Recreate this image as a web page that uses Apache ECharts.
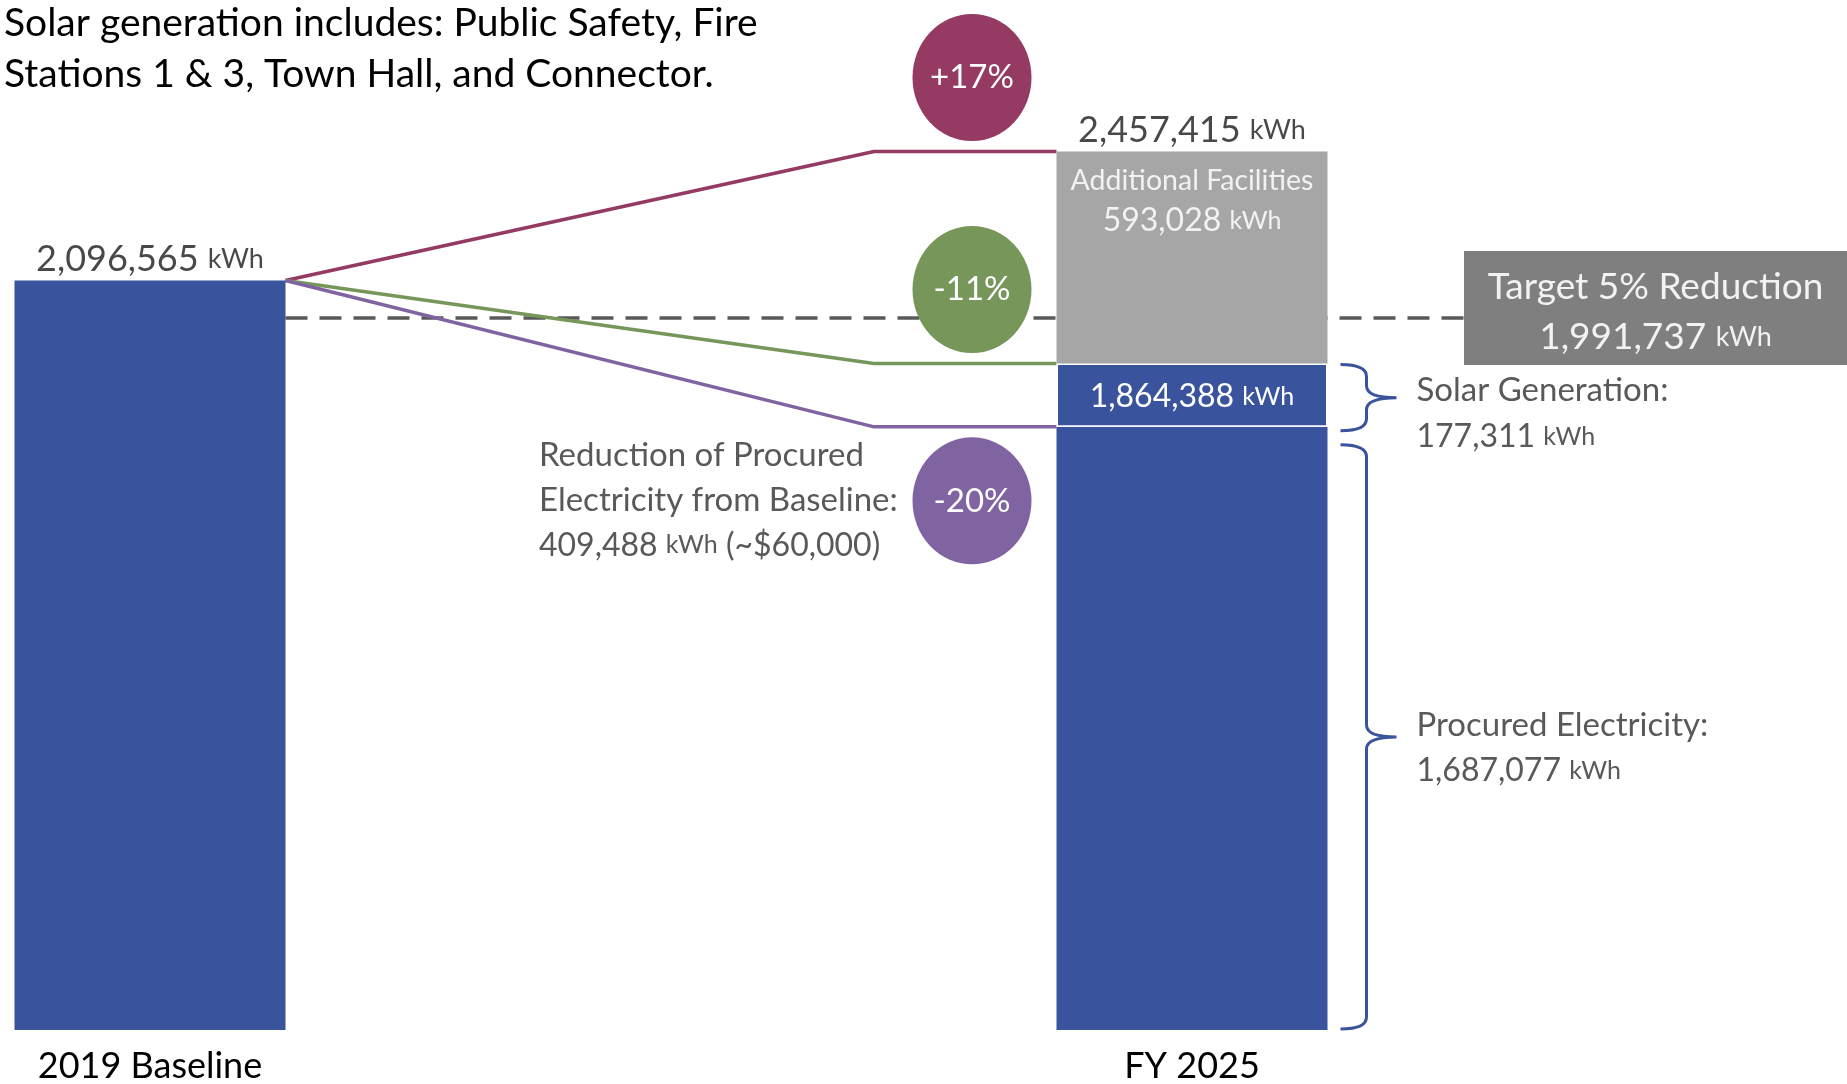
<!DOCTYPE html>
<html>
<head>
<meta charset="utf-8">
<script src="https://cdn.jsdelivr.net/npm/echarts@6/dist/echarts.min.js"></script>
<style>
html,body{margin:0;padding:0;background:#ffffff;}
#chart{width:1847px;height:1084px;}
</style>
</head>
<body>
<div id="chart"></div>
<script>
// ---------------- DATA ----------------
const categories = ['2019 Baseline', 'FY 2025'];
const procuredKWh = [2096565, 1687077];
const solarKWh = [null, 177311];
const additionalKWh = [null, 593028];
const totalKWh = [2096565, 2457415];
const netKWh = [2096565, 1864388];          // procured + solar
const targetKWh = 1991737;                  // 5% below baseline
const reductionKWh = 409488;
const reductionCost = '~$60,000';
const noteLines = ['Solar generation includes: Public Safety, Fire', 'Stations 1 & 3, Town Hall, and Connector.'];
const braceLabels = ['Solar Generation:', 'Procured Electricity:'];
const targetLabel = 'Target 5% Reduction';
const additionalLabel = 'Additional Facilities';

// ---------------- LAYOUT / STYLE ----------------
const FONT = 'Lato, "Open Sans", sans-serif';
const GRID_LEFT = 150, GRID_RIGHT_X = 1192, W = 1847, H = 1084;
const GRID_W = GRID_RIGHT_X - GRID_LEFT;
const BAR_W = 271;
const HALF = BAR_W / 2 / GRID_W;
const KINK_X = (874 - GRID_LEFT) / GRID_W;
const CIRCLE_X = (972 - GRID_LEFT) / GRID_W;
const TARGET_END_X = (1464 - GRID_LEFT) / GRID_W;
const BLUE = '#39539c', GRAY = '#a6a6a6', DARKGRAY = '#7f7f7f', TEXTGRAY = '#595959';
const C_UP = '#953a63', C_GREEN = '#77965a', C_PURPLE = '#8064a2';
const fmt = v => v.toLocaleString('en-US');
const pct = v => { const p = Math.round((v / totalKWh[0] - 1) * 100); return (p > 0 ? '+' : '') + p + '%'; };

const chart = echarts.init(document.getElementById('chart'), null, {renderer: 'canvas'});

function connector(level, color, extra) {
  return {
    type: 'line', xAxisIndex: 1, yAxisIndex: 0, z: 2, clip: false,
    symbol: 'circle', symbolSize: 0, showSymbol: true, silent: true,
    lineStyle: {color: color, width: 3.5},
    itemStyle: {color: color},
    label: {show: false},
    data: [[HALF, totalKWh[0]], extra ? Object.assign({value: [KINK_X, level]}, extra) : [KINK_X, level], [1 - HALF, level]]
  };
}

const braceData = [[1, procuredKWh[1], netKWh[1]], [1, 0, procuredKWh[1]]];
const braceValues = [solarKWh[1], procuredKWh[1]];
const bracePad = [[1, 4], [18, -1]];
const braceTextDy = [16, 11];

const option = {
  animation: false,
  backgroundColor: '#ffffff',
  title: {
    text: noteLines.join('\n'), left: 4, top: -2, padding: 0,
    textStyle: {fontFamily: FONT, fontSize: 39, lineHeight: 51, color: '#000', fontWeight: 'normal'}
  },
  grid: {left: GRID_LEFT, right: W - GRID_RIGHT_X, top: 29, bottom: 54, containLabel: false},
  xAxis: [
    {type: 'category', data: categories, boundaryGap: false,
     axisLine: {show: false}, axisTick: {show: false}, splitLine: {show: false},
     axisLabel: {fontFamily: FONT, fontSize: 36, color: '#000', margin: 18}},
    {type: 'value', min: 0, max: 1, show: false}
  ],
  yAxis: {type: 'value', min: 0, max: 2800000, show: false},
  series: [
    // target dashed line with label box
    {
      type: 'custom', xAxisIndex: 1, yAxisIndex: 0, z: 1, clip: false, silent: true,
      renderItem: function (params, api) {
        const y = api.coord([HALF, api.value(1)])[1];
        const x1 = api.coord([HALF, api.value(1)])[0];
        const x2 = api.coord([api.value(0), api.value(1)])[0];
        const boxTop = y - 67, boxH = 114, boxW = W - x2;
        return {
          type: 'group',
          children: [
            {type: 'line', shape: {x1: x1, y1: y, x2: x2, y2: y},
             style: {stroke: TEXTGRAY, lineWidth: 3.5, lineDash: [22, 12]}},
            {type: 'rect', shape: {x: x2, y: boxTop, width: boxW, height: boxH}, style: {fill: DARKGRAY}},
            {type: 'text', x: x2 + boxW / 2, y: boxTop + 61, style: {
              text: '{t|' + targetLabel + '}\n{n|' + fmt(api.value(1)) + ' }{u|kWh}',
              align: 'center', verticalAlign: 'middle', fill: '#f2f2f2',
              fontFamily: FONT, fontSize: 37, lineHeight: 50,
              rich: {
                t: {fontFamily: FONT, fontSize: 37, fill: '#f2f2f2', lineHeight: 50},
                n: {fontFamily: FONT, fontSize: 37, fill: '#f2f2f2', lineHeight: 50},
                u: {fontFamily: FONT, fontSize: 27, fill: '#f2f2f2', lineHeight: 50}
              }
            }}
          ]
        };
      },
      data: [[TARGET_END_X, targetKWh]]
    },
    connector(totalKWh[1], C_UP),
    connector(netKWh[1], C_GREEN),
    connector(procuredKWh[1], C_PURPLE, {label: {
      show: true, position: [-335, 6], align: 'left', verticalAlign: 'top',
      fontFamily: FONT, fontSize: 33, color: TEXTGRAY, lineHeight: 45,
      formatter: 'Reduction of Procured\nElectricity from Baseline:\n{n|' + fmt(reductionKWh) + ' }{u|kWh}{n| (' + reductionCost + ')}',
      rich: {
        n: {fontFamily: FONT, fontSize: 32, color: TEXTGRAY, lineHeight: 45},
        u: {fontFamily: FONT, fontSize: 25, color: TEXTGRAY, lineHeight: 45}
      }
    }}),
    // stacked bars
    {
      name: 'Procured Electricity', type: 'bar', stack: 'kwh', barWidth: BAR_W, clip: false, z: 3,
      itemStyle: {color: BLUE}, data: procuredKWh
    },
    {
      name: 'Solar Generation', type: 'bar', stack: 'kwh', barWidth: BAR_W, clip: false, z: 3,
      itemStyle: {color: BLUE, borderColor: '#ffffff', borderWidth: 1.5},
      label: {
        show: true, position: 'inside', offset: [0, 2],
        formatter: p => '{n|' + fmt(netKWh[p.dataIndex]) + ' }{u|kWh}',
        rich: {
          n: {fontFamily: FONT, fontSize: 32, color: '#ffffff'},
          u: {fontFamily: FONT, fontSize: 25, color: '#ffffff'}
        }
      },
      data: solarKWh.map(v => v == null ? '-' : v)
    },
    {
      name: 'Additional Facilities', type: 'bar', stack: 'kwh', barWidth: BAR_W, clip: false, z: 3,
      itemStyle: {color: GRAY},
      label: {
        show: true, position: 'insideTop', distance: 9,
        formatter: p => '{t|' + additionalLabel + '}\n{n|' + fmt(additionalKWh[p.dataIndex]) + ' }{u|kWh}',
        rich: {
          t: {fontFamily: FONT, fontSize: 28.5, color: '#f2f2f2', lineHeight: 40},
          n: {fontFamily: FONT, fontSize: 32, color: '#f2f2f2', lineHeight: 40},
          u: {fontFamily: FONT, fontSize: 25, color: '#f2f2f2', lineHeight: 40}
        }
      },
      data: additionalKWh.map(v => v == null ? '-' : v)
    },
    // totals above bars
    {
      type: 'scatter', xAxisIndex: 0, symbolSize: 0, clip: false, z: 5, silent: true,
      label: {
        show: true, position: 'top', distance: 3,
        formatter: p => '{n|' + fmt(p.value) + ' }{u|kWh}',
        rich: {
          n: {fontFamily: FONT, fontSize: 36, color: '#1a1a1a'},
          u: {fontFamily: FONT, fontSize: 27, color: '#1a1a1a'}
        }
      },
      data: totalKWh
    },
    // percentage circles
    {
      type: 'scatter', xAxisIndex: 1, clip: false, z: 4, silent: true,
      symbol: 'circle', symbolSize: [119, 127],
      label: {show: true, position: 'inside', fontFamily: FONT, fontSize: 33, color: '#ffffff',
              formatter: p => pct(p.value[1])},
      data: [
        {value: [CIRCLE_X, totalKWh[1]], symbolOffset: [0, -74], itemStyle: {color: C_UP, opacity: 1}},
        {value: [CIRCLE_X, netKWh[1]], symbolOffset: [0, -74], itemStyle: {color: C_GREEN, opacity: 1}},
        {value: [CIRCLE_X, procuredKWh[1]], symbolOffset: [0, 74], itemStyle: {color: C_PURPLE, opacity: 1}}
      ]
    },
    // braces
    {
      type: 'custom', xAxisIndex: 0, clip: false, z: 4, silent: true,
      renderItem: function (params, api) {
        const i = params.dataIndex;
        const cx = api.coord([api.value(0), 0])[0];
        const x0 = cx + BAR_W / 2 + 13, xm = x0 + 26, xt = x0 + 56, r = 12;
        const yTop = api.coord([api.value(0), api.value(2)])[1] + bracePad[i][0];
        const yBot = api.coord([api.value(0), api.value(1)])[1] + bracePad[i][1];
        const ym = (yTop + yBot) / 2;
        const path = 'M' + x0 + ',' + yTop + ' Q' + xm + ',' + yTop + ' ' + xm + ',' + (yTop + r) +
          ' L' + xm + ',' + (ym - r) + ' Q' + xm + ',' + ym + ' ' + xt + ',' + ym +
          ' M' + x0 + ',' + yBot + ' Q' + xm + ',' + yBot + ' ' + xm + ',' + (yBot - r) +
          ' L' + xm + ',' + (ym + r) + ' Q' + xm + ',' + ym + ' ' + xt + ',' + ym;
        return {
          type: 'group',
          children: [
            {type: 'path', shape: {pathData: path}, style: {stroke: BLUE, lineWidth: 3, fill: null}},
            {type: 'text', x: xt + 20, y: ym + braceTextDy[i], style: {
              text: braceLabels[i] + '\n{n|' + fmt(braceValues[i]) + ' }{u|kWh}',
              fontFamily: FONT, fontSize: 33, fill: TEXTGRAY, lineHeight: 46,
              align: 'left', verticalAlign: 'middle',
              rich: {
                n: {fontFamily: FONT, fontSize: 32, fill: TEXTGRAY, lineHeight: 46},
                u: {fontFamily: FONT, fontSize: 25, fill: TEXTGRAY, lineHeight: 46}
              }
            }}
          ]
        };
      },
      data: braceData
    }
  ]
};
chart.setOption(option);
</script>
</body>
</html>
